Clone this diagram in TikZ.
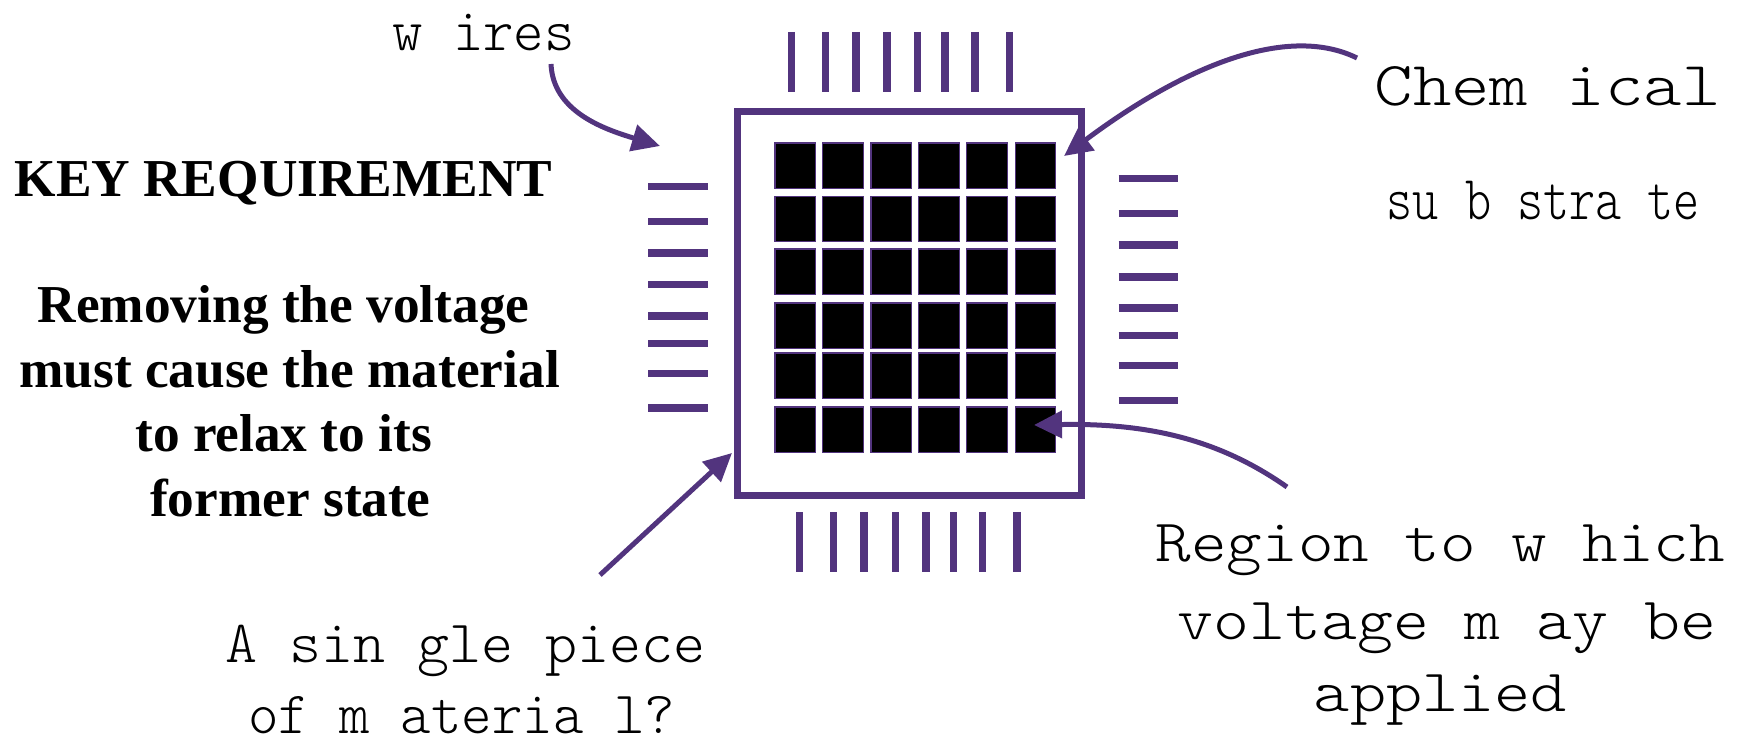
\documentclass[tikz,border=0pt]{standalone}
\usepackage{fontspec}
\setmainfont{Liberation Serif}
\newfontfamily\cour{lmmonolt10-regular.otf}
\usetikzlibrary{arrows.meta}
\definecolor{chip}{RGB}{82,52,126}
\newcommand\fitw[2]{\resizebox{#1}{\height}{#2}}
\begin{document}
\begin{tikzpicture}[x=0.75pt,y=-0.75pt,
  wire/.style={draw=chip,line width=5.6pt},
  frame/.style={draw=chip,line width=5.6pt},
  cell/.style={fill=black,draw=chip,line width=1pt},
  arr/.style={draw=chip,line width=3.75pt,-{Triangle[length=21pt,width=20pt]}},
  mono/.style={inner sep=0pt,anchor=base,font=\cour\fontsize{45}{54}\selectfont},
  monobig/.style={inner sep=0pt,anchor=base,font=\cour\fontsize{47}{56}\selectfont},
  boldtxt/.style={inner sep=0pt,anchor=base,font=\bfseries\fontsize{40}{48}\selectfont}]
\useasboundingbox (0,0) rectangle (1742,745);
% wires
\foreach \x in {791.3,825.4,856.0,887.0,917.6,945.2,975.0,1009.5}
  \draw[wire] (\x,32) -- (\x,92);
\foreach \x in {799.3,833.3,864,895.3,926,953.3,982.7,1017}
  \draw[wire] (\x,512) -- (\x,572);
\foreach \y in {186.4,221.4,252.9,284.6,316.1,343.6,373.6,408.2}
  \draw[wire] (648,\y) -- (708,\y);
\foreach \y in {178.6,213.6,245,276.8,307.9,335.7,365.7,400.7}
  \draw[wire] (1118.6,\y) -- (1178.3,\y);
% substrate frame
\draw[frame] (737.5,111.6) rectangle (1081.5,495.5);
% cells
\foreach \cx in {774.9,822.7,870.9,918.8,966.6,1015.2}
  \foreach \cy in {142.9,196.4,248.9,302.9,352.9,407.1}
    \draw[cell] (\cx,\cy) rectangle ++(40.6,45.3);
% texts
\node[mono] (wires) at (483.5,50.7) {\fitw{137pt}{w ires}};
\node[monobig] (chemA) at (1547.6,105.8) {\fitw{259.5pt}{Chem ical}};
\node[monobig] (chemB) at (1543.4,220) {\fitw{235pt}{su b stra te}};
\node[mono] (regA) at (1440.4,561.6) {\fitw{427pt}{Region to w hich}};
\node[mono] (regB) at (1447,639.3) {\fitw{404pt}{voltage m ay be}};
\node[mono] (regC) at (1440.5,711.7) {\fitw{190pt}{applied}};
\node[mono] (pieceA) at (465,662.5) {\fitw{360pt}{A sin gle piece}};
\node[mono] (pieceB) at (461.7,733.5) {\fitw{320pt}{of m ateria l?}};
\node[boldtxt] (key) at (283.5,196.4) {KEY REQUIREMENT};
\node[boldtxt] (req1) at (283.6,323) {Removing the voltage};
\node[boldtxt] (req2) at (289.6,387.5) {must cause the material};
\node[boldtxt] (req3) at (283.6,451.8) {to relax to its};
\node[boldtxt] (req4) at (290,516) {former state};
% arrows
\coordinate (wiresFrom) at (551,64);
\coordinate (wiresTo) at (660,146);
\draw[arr] (wiresFrom) .. controls (553,110) and (600,128) .. (wiresTo);
\coordinate (chemFrom) at (1357,58);
\coordinate (chemTo) at (1064,156);
\draw[arr] (chemFrom) .. controls (1290,25) and (1190,62) .. (chemTo);
\coordinate (regFrom) at (1287,487);
\coordinate (regTo) at (1034,425);
\draw[arr] (regFrom) .. controls (1220,440) and (1150,423) .. (regTo);
\coordinate (pieceFrom) at (600,575);
\coordinate (pieceTo) at (732,453);
\draw[arr] (pieceFrom) -- (pieceTo);
\end{tikzpicture}
\end{document}
